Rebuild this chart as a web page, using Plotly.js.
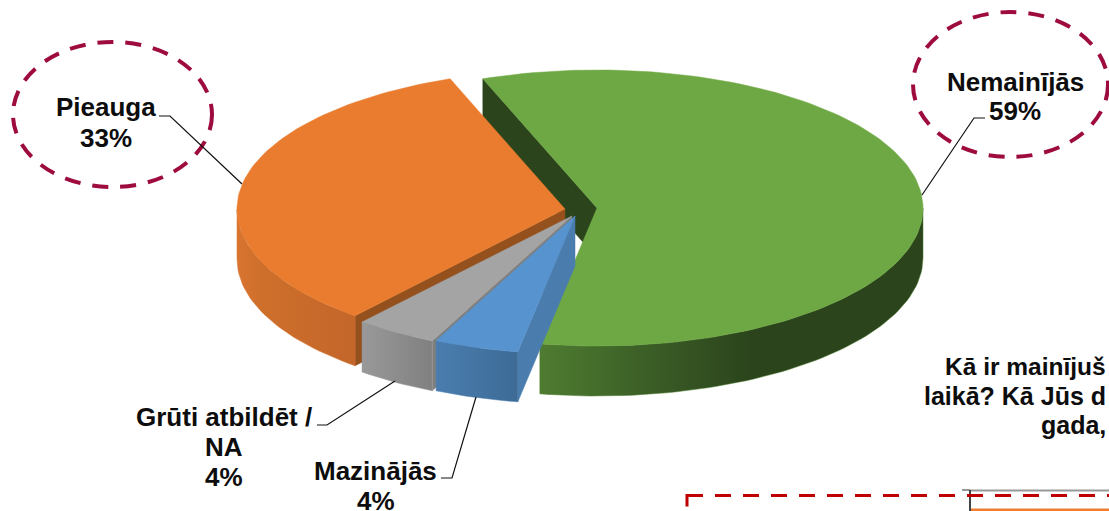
<!DOCTYPE html>
<html><head><meta charset="utf-8">
<script src="https://cdn.plot.ly/plotly-3.0.1.min.js"></script>
<style>html,body{margin:0;padding:0;background:#fff;overflow:hidden}</style>
</head><body><div id="chart" style="width:1109px;height:511px"></div>
<script>
const categories = ["Nemainījās", "Mazinājās", "Grūti atbildēt /<br>NA", "Pieauga"];
const shares = [58.5, 4.2, 4.05, 33.25];
const startAngle = -20.5;
const questionLines = ["Kā ir mainījuš", "laikā? Kā Jūs d", "gada,"];

// styles and geometry, kept apart from the data
const radiiX = [326, 326, 328, 328], radiiY = [138, 138, 138, 139], depth = 50;
const centres = [[597, 208], [575, 216], [572, 216], [565, 209]];
const topColours = ["#6ea844", "#5793cf", "#a4a4a4", "#e97c2f"];
const cutColours = ["#2b441c", "#4a7dae", "#7f7f7f", "#94501d"];
const wallScales = [
  [[0, "#4e7c30"], [0.27, "#3c5f27"], [0.55, "#2b441c"], [1, "#2b441c"]],
  [[0, "#4a7dae"], [1, "#3d6b96"]],
  [[0, "#999999"], [1, "#808080"]],
  [[0, "#d87530"], [0.2, "#ce6f2b"], [1, "#c3662a"]]
];

function pt(i, deg, drop) {
  const a = deg * Math.PI / 180, c = centres[i];
  return [c[0] + radiiX[i] * Math.sin(a), c[1] - radiiY[i] * Math.cos(a) + (drop || 0)];
}
function arc(i, a, b, drop) {
  const n = Math.max(2, Math.ceil(Math.abs(b - a) / 1.5)), out = [];
  for (let k = 0; k <= n; k++) out.push(pt(i, a + (b - a) * k / n, drop));
  return out;
}
function poly(points, colour, grad) {
  const closed = points.concat([points[0]]);
  const t = {type: "scatter", mode: "lines", x: closed.map(p => p[0]), y: closed.map(p => p[1]),
    fill: "toself", line: {width: 0.5, color: colour}, fillcolor: colour, hoverinfo: "skip", showlegend: false};
  if (grad) t.fillgradient = {type: "horizontal", colorscale: grad};
  return t;
}

const spans = [];
let acc = startAngle;
const total = shares.reduce((s, v) => s + v, 0);
shares.forEach(v => { spans.push([acc, acc + v / total * 360]); acc += v / total * 360; });

const traces = [];
function slice(i) {
  const c = centres[i], [a, b] = spans[i];
  // visible cut face, at the start angle of each slice
  traces.push(poly([c, pt(i, a, 0), pt(i, a, depth), [c[0], c[1] + depth]], cutColours[i]));
  // front wall
  const w1 = Math.max(a, 90), w2 = Math.min(b, 270);
  if (w2 > w1) traces.push(poly(arc(i, w1, w2, 0).concat(arc(i, w2, w1, depth)), wallScales[i][0][1], wallScales[i]));
  // top
  traces.push(poly([c].concat(arc(i, a, b, 0)), topColours[i]));
}
[0, 3, 2, 1].forEach(slice);

const labelFont = {family: "Liberation Sans", size: 26, color: "#0d0d0d"};
const labelX = [1015, 375.5, 224, 106];
const labelY = [[82, 111], [471, 501], [417, 447, 477], [107, 138]];
const annotations = [];
categories.forEach((name, i) => {
  const lines = name.split("<br>").concat([Math.round(shares[i]) + "%"]);
  lines.forEach((line, k) => annotations.push({
    x: labelX[i], y: labelY[i][k], xref: "x", yref: "y", showarrow: false, text: "<b>" + line + "</b>",
    xanchor: "center", yanchor: "middle", font: labelFont
  }));
});
const questionY = [366, 396, 425], questionSize = [24.5, 25, 25];
questionLines.forEach((q, k) => annotations.push({
  x: 1108, y: questionY[k], xref: "x", yref: "y", showarrow: false, text: "<b>" + q + "</b>",
  xanchor: "right", yanchor: "middle", font: {family: "Liberation Sans", size: questionSize[k], color: "#0d0d0d"}
}));

const dashRed = {color: "#9e0b3f", width: 4, dash: "16px,12px"};
const leader = {color: "#111", width: 1.2};
function sh(o) { return Object.assign({xref: "x", yref: "y", layer: "above"}, o); }
const shapes = [
  sh({type: "circle", x0: 13, x1: 212, y0: 42, y1: 187, line: dashRed}),
  sh({type: "circle", x0: 913, x1: 1108, y0: 12, y1: 157, line: dashRed}),
  sh({type: "path", path: "M159,116 L170,116 L242,184", line: leader}),
  sh({type: "path", path: "M985,118 L974,118 L922,195", line: leader}),
  sh({type: "path", path: "M317,425 L327,425 L395,381", line: leader}),
  sh({type: "path", path: "M441,478 L452,478 L476,397", line: leader}),
  sh({type: "line", x0: 970, x1: 1109, y0: 490.5, y1: 490.5, line: {color: "#999", width: 2}}),
  sh({type: "line", x0: 962, x1: 970, y0: 490, y1: 490, line: {color: "#333", width: 1}}),
  sh({type: "line", x0: 970, x1: 970, y0: 490, y1: 511, line: {color: "#444", width: 2}}),
  sh({type: "rect", x0: 971, x1: 1109, y0: 508.5, y1: 511, fillcolor: "#ed7d31", line: {width: 0}}),
  sh({type: "rect", x0: 687, x1: 1300, y0: 495.5, y1: 700, line: {color: "#c00000", width: 3, dash: "16px,12px"}})
];

Plotly.newPlot("chart", traces, {
  width: 1109, height: 511, margin: {l: 0, r: 0, t: 0, b: 0}, paper_bgcolor: "#fff", plot_bgcolor: "#fff",
  xaxis: {range: [0, 1109], visible: false, fixedrange: true},
  yaxis: {range: [511, 0], visible: false, fixedrange: true},
  showlegend: false, annotations, shapes, hovermode: false
}, {displayModeBar: false, staticPlot: true});
</script></body></html>
